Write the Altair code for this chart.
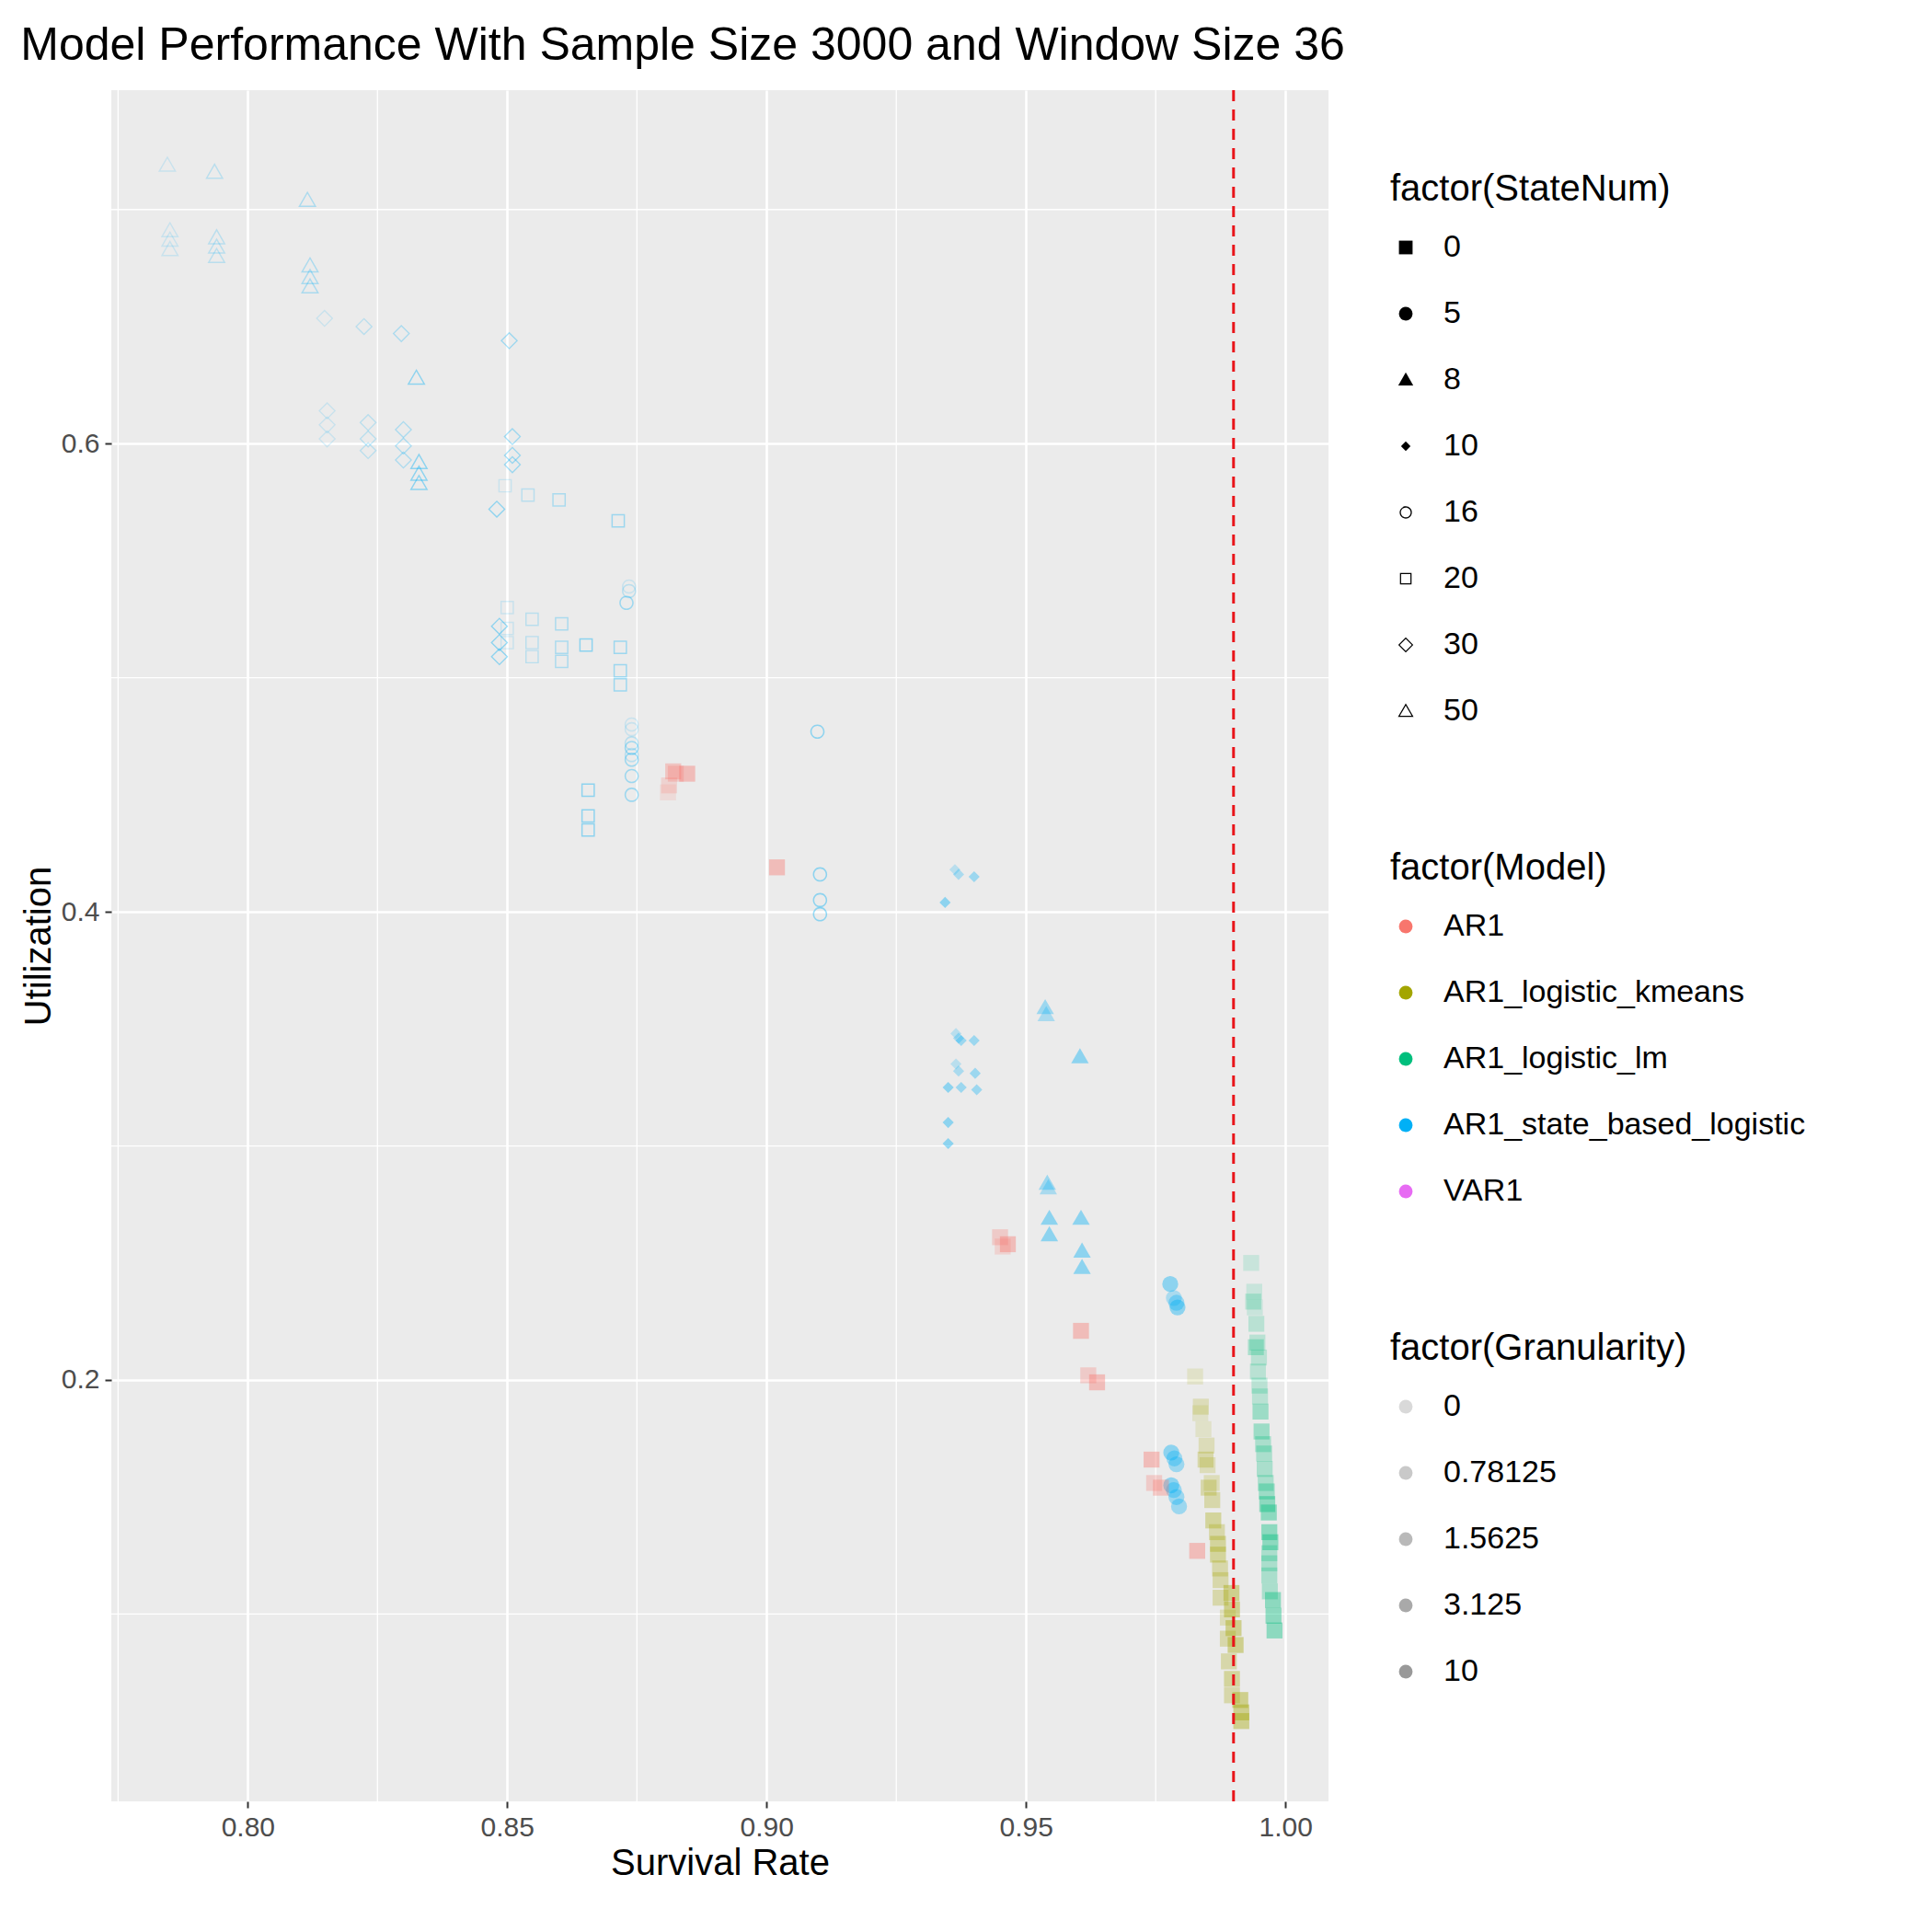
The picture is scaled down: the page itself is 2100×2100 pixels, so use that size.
import altair as alt
import pandas as pd

# AR1_state_based_logistic points, grouped by StateNum
sbl_survival = [
    0.7845, 0.7936, 0.8115, 0.785, 0.785, 0.785, 0.794, 0.794, 0.794, 0.812, 0.812, 0.812, 0.8325, 0.833, 0.833, 0.833,
    0.8148, 0.8224, 0.8296, 0.8504, 0.8153, 0.8153, 0.8153, 0.8232, 0.8232, 0.8232, 0.830, 0.830, 0.830, 0.851, 0.851, 0.851, 0.848, 0.8485, 0.8485, 0.8485,
    0.8496, 0.854, 0.860, 0.8714, 0.850, 0.850, 0.850, 0.8548, 0.8548, 0.8548, 0.8605, 0.8605, 0.8605, 0.8652, 0.8718, 0.8718, 0.8718, 0.8656, 0.8656, 0.8656,
    0.8735, 0.8735, 0.873, 0.874, 0.874, 0.874, 0.874, 0.874, 0.874, 0.874, 0.874, 0.9098, 0.9103, 0.9103, 0.9103,
    0.9363, 0.937, 0.940, 0.9344, 0.9365, 0.937, 0.9375, 0.940, 0.9365, 0.937, 0.9375, 0.9402, 0.9405, 0.935, 0.935, 0.935,
    0.9537, 0.9539, 0.9604, 0.9541, 0.9543, 0.9545, 0.9545, 0.9606, 0.9608, 0.9608,
    0.9778, 0.9785, 0.979, 0.9792, 0.978, 0.9786, 0.979, 0.978, 0.9785, 0.979, 0.9795,
]
sbl_util = [
    0.719, 0.716, 0.704, 0.691, 0.687, 0.683, 0.688, 0.684, 0.680, 0.676, 0.671, 0.667, 0.628, 0.592, 0.587, 0.583,
    0.6535, 0.650, 0.647, 0.644, 0.614, 0.608, 0.602, 0.609, 0.602, 0.597, 0.606, 0.599, 0.593, 0.603, 0.595, 0.591, 0.572, 0.522, 0.515, 0.509,
    0.582, 0.578, 0.576, 0.567, 0.530, 0.521, 0.515, 0.525, 0.515, 0.509, 0.523, 0.513, 0.507, 0.514, 0.513, 0.503, 0.497, 0.452, 0.441, 0.435,
    0.539, 0.537, 0.532, 0.480, 0.478, 0.472, 0.467, 0.470, 0.465, 0.458, 0.450, 0.477, 0.416, 0.405, 0.399,
    0.418, 0.416, 0.415, 0.404, 0.348, 0.346, 0.345, 0.345, 0.335, 0.332, 0.325, 0.331, 0.324, 0.325, 0.310, 0.301,
    0.359, 0.356, 0.338, 0.284, 0.282, 0.269, 0.262, 0.269, 0.255, 0.248,
    0.241, 0.235, 0.233, 0.231, 0.169, 0.1665, 0.164, 0.155, 0.153, 0.150, 0.146,
]
sbl_state = [50] * 16 + [30] * 20 + [20] * 20 + [16] * 15 + [10] * 16 + [8] * 10 + [5] * 11
sbl_gran = [
    "0", "0.78125", "1.5625", "0", "0", "0", "0.78125", "0.78125", "0.78125", "1.5625", "1.5625", "1.5625", "10", "10", "10", "10",
    "0", "0.78125", "1.5625", "3.125", "0", "0", "0", "0.78125", "0.78125", "0.78125", "1.5625", "1.5625", "1.5625", "3.125", "3.125", "3.125", "10", "10", "10", "10",
    "0", "0.78125", "1.5625", "3.125", "0", "0", "0", "0.78125", "0.78125", "0.78125", "1.5625", "1.5625", "1.5625", "10", "3.125", "3.125", "3.125", "10", "10", "10",
    "0", "0.78125", "3.125", "0", "0", "0.78125", "0.78125", "3.125", "3.125", "3.125", "3.125", "10", "10", "10", "10",
    "0.78125", "1.5625", "3.125", "10", "0.78125", "1.5625", "3.125", "3.125", "0.78125", "1.5625", "3.125", "3.125", "3.125", "10", "10", "10",
    "3.125", "1.5625", "10", "3.125", "1.5625", "10", "10", "10", "10", "10",
    "10", "1.5625", "3.125", "10", "10", "3.125", "3.125", "10", "3.125", "3.125", "3.125",
]

ar1_survival = [0.882, 0.8825, 0.8847, 0.881, 0.8812, 0.902, 0.945, 0.9465, 0.9455, 0.9606, 0.962, 0.9637, 0.9742, 0.9747, 0.976, 0.983]
ar1_util = [0.460, 0.459, 0.459, 0.451, 0.454, 0.419, 0.261, 0.258, 0.257, 0.221, 0.202, 0.199, 0.166, 0.156, 0.154, 0.127]
ar1_gran = ["3.125", "1.5625", "10", "0", "0.78125", "10", "1.5625", "10", "0.78125", "10", "1.5625", "10", "10", "1.5625", "3.125", "10"]

km_survival = [
    0.9826, 0.9837, 0.9836, 0.9842, 0.9848, 0.9846, 0.9850, 0.9858, 0.9852, 0.9859, 0.9861, 0.9868, 0.9870, 0.9870,
    0.9874, 0.9875, 0.9875, 0.9896, 0.9897, 0.9900, 0.9904, 0.9889, 0.9889, 0.9891, 0.9897, 0.9897, 0.9913, 0.9915, 0.9915,
]
km_util = [
    0.2015, 0.1886, 0.1858, 0.179, 0.172, 0.166, 0.1636, 0.156, 0.154, 0.1487, 0.140, 0.135, 0.130, 0.1254,
    0.1195, 0.1145, 0.107, 0.109, 0.102, 0.094, 0.0868, 0.0985, 0.0895, 0.0798, 0.0723, 0.0653, 0.0633, 0.058, 0.0543,
]
km_gran = [
    "0", "0.78125", "0", "0", "0.78125", "1.5625", "0.78125", "0.78125", "1.5625", "1.5625", "3.125", "1.5625", "3.125", "3.125",
    "1.5625", "1.5625", "1.5625", "10", "10", "10", "10", "0.78125", "1.5625", "1.5625", "3.125", "1.5625", "10", "10", "10",
]

lm_survival = [
    0.9934, 0.9940, 0.9938, 0.9941, 0.9944, 0.9946, 0.9943, 0.9949, 0.9947, 0.9950, 0.9951, 0.9952, 0.9954, 0.9957, 0.9959,
    0.9960, 0.9962, 0.9964, 0.9965, 0.9968, 0.9969, 0.9971, 0.9969, 0.9969, 0.9969, 0.9970, 0.9976, 0.9977, 0.9979,
]
lm_util = [
    0.250, 0.2377, 0.2335, 0.231, 0.224, 0.216, 0.214, 0.2096, 0.2036, 0.1976, 0.193, 0.1865, 0.178, 0.1726, 0.1686,
    0.162, 0.156, 0.1524, 0.147, 0.1434, 0.135, 0.1307, 0.126, 0.1217, 0.1165, 0.1097, 0.106, 0.0993, 0.093,
]
lm_gran = [
    "0", "0", "0.78125", "0", "0.78125", "0.78125", "1.5625", "0.78125", "0.78125", "0.78125", "0.78125", "3.125", "3.125", "1.5625", "1.5625",
    "1.5625", "1.5625", "3.125", "10", "10", "10", "10", "1.5625", "1.5625", "1.5625", "1.5625", "10", "10", "10",
]

models = ["AR1", "AR1_logistic_kmeans", "AR1_logistic_lm", "AR1_state_based_logistic", "VAR1"]
model_colors = ["#F8766D", "#A3A500", "#00BF7D", "#00B0F6", "#E76BF3"]
states = ["0", "5", "8", "10", "16", "20", "30", "50"]
grans = ["0", "0.78125", "1.5625", "3.125", "10"]
gran_alpha = [0.15, 0.4, 0.6, 0.8, 1.0]

# filled shapes plus outline rings drawn as paths with a hole
shape_paths = [
    "square",
    "circle",
    "M0,-1.1L1.1,0.8L-1.1,0.8Z",
    "M0,-0.7L0.7,0L0,0.7L-0.7,0Z",
    "M-0.9,0A0.9,0.9 0 1,1 0.9,0A0.9,0.9 0 1,1 -0.9,0Z M-0.72,0A0.72,0.72 0 1,0 0.72,0A0.72,0.72 0 1,0 -0.72,0Z",
    "M-0.85,-0.85H0.85V0.85H-0.85Z M-0.68,-0.68V0.68H0.68V-0.68Z",
    "M0,-1.1L1.1,0L0,1.1L-1.1,0Z M0,-0.88L-0.88,0L0,0.88L0.88,0Z",
    "M0,-1.15L1.15,0.85L-1.15,0.85Z M0,-0.82L-0.86,0.68L0.86,0.68Z",
]

rows = []
for s, u, st, g in zip(sbl_survival, sbl_util, sbl_state, sbl_gran):
    rows.append(("AR1_state_based_logistic", s, u, str(st), g))
for s, u, g in zip(ar1_survival, ar1_util, ar1_gran):
    rows.append(("AR1", s, u, "0", g))
for s, u, g in zip(km_survival, km_util, km_gran):
    rows.append(("AR1_logistic_kmeans", s, u, "0", g))
for s, u, g in zip(lm_survival, lm_util, lm_gran):
    rows.append(("AR1_logistic_lm", s, u, "0", g))
df = pd.DataFrame(rows, columns=["Model", "Survival", "Utilization", "StateNum", "Granularity"])

x_dom = [0.7737, 1.0083]
y_dom = [0.020, 0.751]
x_minor = pd.DataFrame({"v": [0.775, 0.825, 0.875, 0.925, 0.975]})
y_minor = pd.DataFrame({"v": [0.1, 0.3, 0.5, 0.7]})

minor_x = alt.Chart(x_minor).mark_rule(color="white", strokeWidth=1.3).encode(
    x=alt.X("v:Q", scale=alt.Scale(domain=x_dom))
)
minor_y = alt.Chart(y_minor).mark_rule(color="white", strokeWidth=1.3).encode(
    y=alt.Y("v:Q", scale=alt.Scale(domain=y_dom))
)

points = (
    alt.Chart(df)
    .mark_point(filled=True, size=300, strokeWidth=0)
    .encode(
        x=alt.X(
            "Survival:Q",
            title="Survival Rate",
            scale=alt.Scale(domain=x_dom, nice=False, zero=False),
            axis=alt.Axis(values=[0.8, 0.85, 0.9, 0.95, 1.0], format=".2f"),
        ),
        y=alt.Y(
            "Utilization:Q",
            title="Utilization",
            scale=alt.Scale(domain=y_dom, nice=False, zero=False),
            axis=alt.Axis(values=[0.2, 0.4, 0.6], format=".1f"),
        ),
        color=alt.Color(
            "Model:N",
            scale=alt.Scale(domain=models, range=model_colors),
            legend=alt.Legend(
                title="factor(Model)", orient="none", legendX=1390, legendY=826,
                symbolType="circle", symbolSize=220, symbolOpacity=1,
            ),
        ),
        shape=alt.Shape(
            "StateNum:N",
            scale=alt.Scale(domain=states, range=shape_paths),
            legend=alt.Legend(
                title="factor(StateNum)", orient="none", legendX=1390, legendY=88,
                symbolFillColor="black", symbolSize=220, symbolStrokeWidth=0, symbolOpacity=1,
            ),
        ),
        opacity=alt.Opacity(
            "Granularity:O",
            sort=grans,
            scale=alt.Scale(domain=grans, range=gran_alpha),
            legend=alt.Legend(
                title="factor(Granularity)", orient="none", legendX=1390, legendY=1348,
                symbolType="circle", symbolFillColor="black", symbolSize=220, symbolStrokeWidth=0,
            ),
        ),
    )
)

vline = alt.Chart(pd.DataFrame({"v": [0.99]})).mark_rule(
    color="#E8141A", strokeDash=[12, 9], strokeWidth=3
).encode(x=alt.X("v:Q", scale=alt.Scale(domain=x_dom)))

chart = (
    (minor_x + minor_y + points + vline)
    .properties(
        width=1323,
        height=1860,
        title=alt.TitleParams(
            "Model Performance With Sample Size 3000 and Window Size 36",
            anchor="start", fontSize=50, font="Liberation Sans", fontWeight="normal",
            color="black", offset=22,
        ),
        padding={"left": 14, "top": 16, "right": 10, "bottom": 10},
        background="white",
    )
    .configure_view(fill="#EBEBEB", stroke=None)
    .configure_axis(
        gridColor="white", gridWidth=2.6, domain=False, tickColor="#333333", tickSize=7, tickWidth=2,
        labelFont="Liberation Sans", labelFontSize=30, labelColor="#4D4D4D", labelPadding=6,
        titleFont="Liberation Sans", titleFontSize=40, titleFontWeight="normal", titleColor="black",
    )
    .configure_legend(
        titleFont="Liberation Sans", titleFontSize=40, titleFontWeight="normal", titleColor="black",
        labelFont="Liberation Sans", labelFontSize=34, labelColor="black", rowPadding=38,
        titlePadding=26, labelOffset=24, labelLimit=600, titleLimit=600,
    )
)

chart.save("out.html", embed_options={"renderer": "svg", "actions": False})
